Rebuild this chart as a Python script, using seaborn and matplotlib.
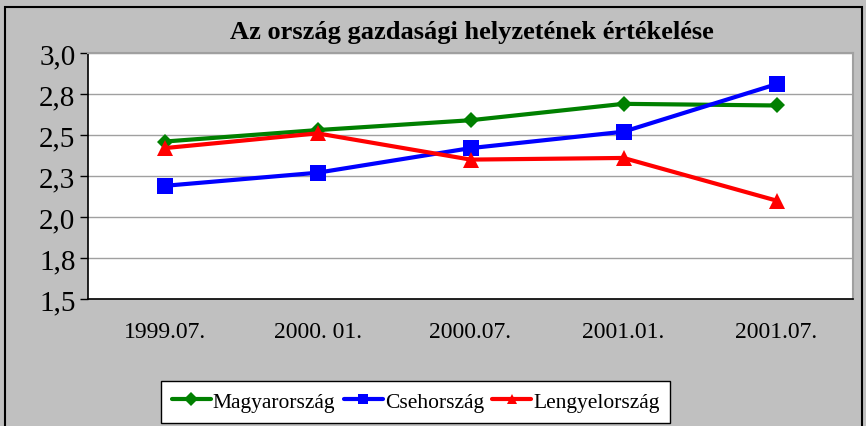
import matplotlib
matplotlib.use("Agg")
import matplotlib.pyplot as plt
import matplotlib.patches as mpatches
from matplotlib.lines import Line2D
import seaborn as sns
import pandas as pd

periods = ["1999.07.", "2000. 01.", "2000.07.", "2001.01.", "2001.07."]
magyar = [2.46, 2.53, 2.59, 2.69, 2.68]
cseh = [2.19, 2.27, 2.42, 2.52, 2.81]
lengyel = [2.42, 2.51, 2.35, 2.36, 2.10]
yticks = [1.5, 1.75, 2.0, 2.25, 2.5, 2.75, 3.0]
ytick_labels = ["1,5", "1,8", "2,0", "2,3", "2,5", "2,8", "3,0"]

df = pd.DataFrame({
    "period": periods * 3,
    "x": list(range(len(periods))) * 3,
    "value": magyar + cseh + lengyel,
    "country": ["Magyarország"] * 5 + ["Csehország"] * 5 + ["Lengyelország"] * 5,
})

sns.set_style("white")
plt.rcParams["font.family"] = ["Liberation Serif", "DejaVu Serif"]
plt.rcParams["text.color"] = "black"
plt.rcParams["xtick.color"] = "black"
plt.rcParams["ytick.color"] = "black"

fig = plt.figure(figsize=(8.66, 4.27), dpi=100, facecolor="#C0C0C0")
ax = fig.add_axes([88 / 866, 1 - 300 / 427, 765 / 866, 246 / 427])
ax.set_facecolor("white")

countries = ["Magyarország", "Csehország", "Lengyelország"]
palette = {"Magyarország": "#008000", "Csehország": "#0000FF", "Lengyelország": "#FF0000"}
markers = {"Magyarország": "D", "Csehország": "s", "Lengyelország": "^"}
sizes = {"Magyarország": 8, "Csehország": 11, "Lengyelország": 11}

for name in countries:
    sub = df[df["country"] == name]
    sns.lineplot(data=sub, x="x", y="value", ax=ax, color=palette[name],
                 marker=markers[name], markersize=sizes[name], linewidth=3,
                 markeredgewidth=0, legend=False)

ax.set_xlim(-0.5, 4.5)
ax.set_ylim(1.5, 3.0)
ax.set_yticks(yticks)
ax.set_yticklabels(ytick_labels, fontsize=21)
ax.set_xticks(range(len(periods)))
ax.set_xticklabels(periods, fontsize=17)
ax.set_xticks([i - 0.5 for i in range(len(periods) + 1)], minor=True)
ax.tick_params(axis="x", which="major", length=0, pad=16)
ax.tick_params(axis="x", which="minor", length=6, width=1, color="black", direction="out")
ax.tick_params(axis="y", length=6, width=1, color="black", direction="out", pad=3, left=True)
ax.yaxis.grid(True, color="#A0A0A0", linewidth=1)
ax.set_xlabel("")
ax.set_ylabel("")
for side in ["top", "right"]:
    ax.spines[side].set_color("#A0A0A0")
    ax.spines[side].set_linewidth(1.5)
for side in ["left", "bottom"]:
    ax.spines[side].set_color("black")
    ax.spines[side].set_linewidth(1.2)

fig.text(472 / 866, 1 - 33 / 427, "Az ország gazdasági helyzetének értékelése",
         ha="center", va="center", fontsize=19, fontweight="bold")

handles = [Line2D([], [], color=palette[n], marker=markers[n], markersize=7,
                  markeredgewidth=0, linewidth=3) for n in countries]
leg = fig.legend(handles, countries, loc="upper left", bbox_to_anchor=(161 / 866, 1 - 382 / 427),
                 ncol=3, frameon=True, fancybox=False, fontsize=15.5, handlelength=1.8,
                 handletextpad=0.1, columnspacing=0.4, borderpad=0.5, borderaxespad=0)
leg.get_frame().set_edgecolor("black")
leg.get_frame().set_linewidth(1)
leg.get_frame().set_facecolor("white")
leg.get_frame().set_alpha(1)

fig.patches.append(mpatches.Rectangle((5 / 866, -0.05), 857 / 866, 1 - 8 / 427 + 0.05,
                                      transform=fig.transFigure, fill=False,
                                      edgecolor="black", linewidth=1.5))

fig.savefig("out.png", dpi=100, facecolor=fig.get_facecolor())
